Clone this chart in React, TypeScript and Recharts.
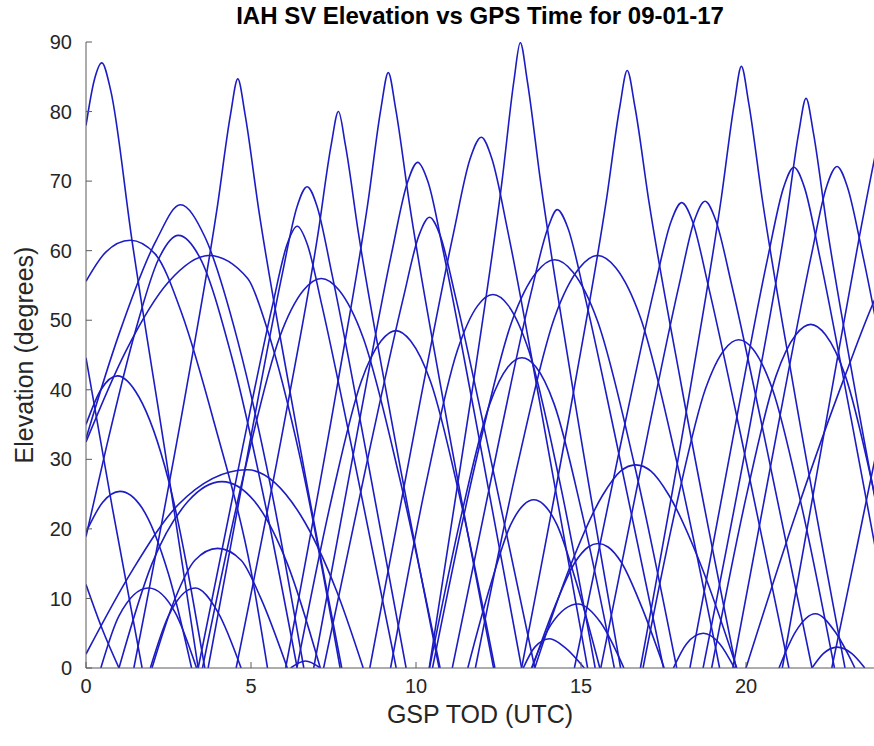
import { Line, LineChart, XAxis, YAxis } from 'recharts';

type Pt = [number, number];

// time of day (h), elevation (deg), one array per pass
const arc87a: Pt[] = [[0, 78], [0.25, 84.5], [0.48, 87], [0.75, 83], [1.39, 61.6], [2.4, 31], [3.4, 0]];
const arc85a: Pt[] = [[1.45, 0], [3.03, 39.8], [3.97, 66], [4.38, 79.6], [4.6, 84.7], [4.82, 79.6], [5.23, 66], [6.18, 39.8], [7.75, 0]];
const arc80: Pt[] = [[4.55, 0], [6.1, 37.6], [7.03, 62.4], [7.43, 75.2], [7.65, 80], [7.86, 75.2], [8.26, 62.4], [9.18, 37.6], [10.7, 0]];
const arc86a: Pt[] = [[6.05, 0], [7.6, 40.2], [8.54, 66.8], [8.94, 80.5], [9.16, 85.6], [9.38, 80.5], [9.8, 66.8], [10.76, 40.2], [12.35, 0]];
const arc73: Pt[] = [[6.9, 0], [8.32, 36.4], [9.26, 59.6], [9.74, 69.8], [10.05, 72.7], [10.37, 69.8], [10.84, 59.6], [11.78, 36.4], [13.2, 0]];
const arc65a: Pt[] = [[7.2, 0], [8.64, 32.4], [9.61, 53.1], [10.09, 62.2], [10.41, 64.8], [10.73, 62.2], [11.21, 53.1], [12.16, 32.4], [13.6, 0]];
const arc76: Pt[] = [[8.6, 0], [10.12, 38.2], [11.14, 62.6], [11.64, 73.2], [11.98, 76.3], [12.3, 73.2], [12.79, 62.6], [13.75, 38.2], [15.2, 0]];
const arc90: Pt[] = [[10.4, 0], [11.78, 42.3], [12.61, 70.1], [12.97, 84.5], [13.16, 89.9], [13.37, 84.5], [13.77, 70.1], [14.68, 42.3], [16.2, 0]];
const arc66a: Pt[] = [[11.1, 0], [12.53, 33], [13.49, 54], [14.0, 63.3], [14.28, 65.9], [14.6, 63.3], [15.09, 54], [16.05, 33], [17.5, 0]];
const arc86b: Pt[] = [[13.2, 0], [14.8, 40.4], [15.76, 67], [16.18, 80.8], [16.4, 85.9], [16.63, 80.8], [17.06, 67], [18.05, 40.4], [19.7, 0]];
const arc67a: Pt[] = [[14.8, 0], [16.26, 33.5], [17.24, 54.9], [17.73, 64.2], [18.05, 66.9], [18.38, 64.2], [18.86, 54.9], [19.84, 33.5], [21.3, 0]];
const arc67b: Pt[] = [[15.6, 0], [17.02, 33.6], [17.97, 55], [18.44, 64.4], [18.76, 67.1], [19.08, 64.4], [19.57, 55], [20.54, 33.6], [22.0, 0]];
const arc87b: Pt[] = [[16.8, 0], [18.33, 40.7], [19.25, 67.5], [19.65, 81.3], [19.86, 86.5], [20.08, 81.3], [20.49, 67.5], [21.43, 40.7], [23.0, 0]];
const arc82: Pt[] = [[18.7, 0], [20.26, 38.5], [21.2, 63.9], [21.6, 77], [21.82, 81.9], [22.04, 77], [22.44, 63.9], [23.36, 38.5], [24.9, 0]];
const arc72a: Pt[] = [[18.3, 0], [19.72, 36], [20.66, 59], [21.14, 69.1], [21.45, 72], [21.77, 69.1], [22.24, 59], [23.18, 36], [24.6, 0]];
const arc72b: Pt[] = [[19.6, 0], [21.02, 36], [21.97, 59.1], [22.44, 69.2], [22.76, 72.1], [23.07, 69.2], [23.55, 59.1], [24.49, 36], [25.9, 0]];
const rise75: Pt[] = [[21.1, 0], [22.6, 40], [23.42, 61.6], [23.95, 74.5], [24.4, 84]];

const arc61: Pt[] = [[0, 55.6], [0.6, 59.8], [1.34, 61.5], [2.1, 59.5], [2.9, 51], [3.9, 35], [5.0, 14], [5.5, 0]];
const fall45: Pt[] = [[0, 44.6], [0.8, 23], [1.7, 0]];
const arc42: Pt[] = [[0, 35], [0.45, 40], [0.95, 42], [1.6, 39], [2.5, 27], [3.6, 0]];
const arc67c: Pt[] = [[0, 33], [1.0, 48], [2.14, 61.6], [2.86, 66.6], [3.6, 62], [4.6, 47], [5.6, 26], [6.6, 0]];
const arc62: Pt[] = [[0, 18.9], [0.6, 31.4], [1.5, 48.5], [2.2, 58.8], [2.8, 62.2], [3.45, 59], [4.4, 45], [5.5, 22], [6.4, 0]];
const arc59a: Pt[] = [[0, 32.5], [1.2, 45.5], [2.5, 55.5], [3.72, 59.3], [4.9, 56], [5.5, 48.6], [6.5, 30], [7.7, 0]];
const arc25: Pt[] = [[0, 19.5], [0.5, 23.8], [1.03, 25.4], [1.7, 23], [2.5, 13.5], [3.2, 0]];
const arc12a: Pt[] = [[0.45, 0], [1.0, 7.5], [1.89, 11.5], [2.7, 8], [3.35, 0]];
const fall12: Pt[] = [[0, 12], [0.5, 5.5], [1.0, 0]];
const arc29a: Pt[] = [[0, 2], [1.4, 14], [2.8, 23.5], [4.88, 28.5], [6.5, 22], [7.6, 11], [8.4, 0]];
const arc27: Pt[] = [[1.0, 0], [2.0, 15], [3.1, 24], [4.12, 26.8], [5.1, 24], [6.1, 15], [7.1, 0]];
const arc17a: Pt[] = [[2.0, 0], [2.7, 10], [3.3, 15.5], [3.99, 17.2], [4.7, 15.5], [5.3, 10], [6.1, 0]];
const arc12b: Pt[] = [[1.95, 0], [2.5, 7.5], [3.31, 11.5], [4.0, 8], [4.7, 0]];
const arc1: Pt[] = [[6.2, 0], [6.65, 1], [7.1, 0]];

const arc69: Pt[] = [[3.7, 0], [5.05, 34.6], [5.95, 56.7], [6.4, 66.4], [6.7, 69.2], [7.0, 66.4], [7.45, 56.7], [8.35, 34.6], [9.7, 0]];
const arc64: Pt[] = [[3.4, 0], [4.75, 31.8], [5.65, 52.1], [6.1, 61], [6.4, 63.5], [6.7, 61], [7.15, 52.1], [8.05, 31.8], [9.4, 0]];
const arc56: Pt[] = [[3.53, 0], [4.79, 28], [5.87, 47.6], [6.59, 54.3], [7.13, 56], [7.67, 54.3], [8.39, 47.6], [9.47, 28], [10.73, 0]];
const arc49a: Pt[] = [[6.39, 0], [7.44, 24.3], [8.34, 41.2], [8.94, 47], [9.39, 48.5], [9.84, 47], [10.44, 41.2], [11.34, 24.3], [12.39, 0]];
const arc54: Pt[] = [[9.23, 0], [10.32, 26.9], [11.25, 45.6], [11.87, 52.1], [12.33, 53.7], [12.8, 52.1], [13.42, 45.6], [14.35, 26.9], [15.43, 0]];
const arc45: Pt[] = [[10.41, 0], [11.39, 22.3], [12.23, 37.9], [12.79, 43.3], [13.21, 44.6], [13.63, 43.3], [14.19, 37.9], [15.03, 22.3], [16.01, 0]];
const arc59b: Pt[] = [[10.5, 0], [11.8, 29.4], [12.91, 49.9], [13.65, 56.9], [14.2, 58.7], [14.76, 56.9], [15.5, 49.9], [16.61, 29.4], [17.9, 0]];
const arc59c: Pt[] = [[11.8, 0], [13.1, 29.7], [14.2, 50.4], [14.95, 57.5], [15.5, 59.3], [16.06, 57.5], [16.8, 50.4], [17.9, 29.7], [19.2, 0]];
const arc47: Pt[] = [[16.88, 0], [17.9, 23.6], [18.77, 40.1], [19.35, 45.8], [19.78, 47.2], [20.22, 45.8], [20.8, 40.1], [21.67, 23.6], [22.68, 0]];
const arc49b: Pt[] = [[18.96, 0], [20.01, 24.7], [20.91, 42], [21.51, 47.9], [21.96, 49.4], [22.41, 47.9], [23.01, 42], [23.91, 24.7], [24.96, 0]];

const arc24: Pt[] = [[11.57, 0], [12.27, 12.1], [12.87, 20.6], [13.27, 23.5], [13.57, 24.2], [13.87, 23.5], [14.27, 20.6], [14.87, 12.1], [15.57, 0]];
const arc4: Pt[] = [[13.25, 0], [13.6, 3], [14.05, 4.2], [14.5, 3], [15.1, 0]];
const arc9: Pt[] = [[13.5, 0], [14.1, 6.3], [14.91, 9.2], [15.6, 6.5], [16.3, 0]];
const arc18: Pt[] = [[13.52, 0], [14.22, 9], [14.82, 15.2], [15.22, 17.4], [15.52, 17.9], [15.82, 17.4], [16.22, 15.2], [16.82, 9], [17.52, 0]];
const arc29b: Pt[] = [[13.6, 0], [14.67, 14.6], [15.65, 24.8], [16.2, 28.3], [16.66, 29.2], [17.12, 28.3], [17.67, 24.8], [18.65, 14.6], [19.72, 0]];
const arc5: Pt[] = [[17.8, 0], [18.2, 3.5], [18.71, 5], [19.2, 3.5], [19.65, 0]];
const arc8: Pt[] = [[21.0, 0], [21.5, 5.2], [22.1, 7.8], [22.7, 5.2], [23.3, 0]];
const arc3: Pt[] = [[22.0, 0], [22.35, 2.1], [22.77, 3], [23.2, 2.1], [23.6, 0]];
const rise54: Pt[] = [[20.0, 0], [21.5, 22], [23.0, 42], [24, 54], [25, 62]];
const rise32: Pt[] = [[22.6, 0], [23.3, 16], [24, 32], [24.5, 42]];

const passes: Pt[][] = [
  arc87a, arc85a, arc80, arc86a, arc73, arc65a, arc76, arc90, arc66a, arc86b, arc67a, arc67b,
  arc87b, arc82, arc72a, arc72b, rise75, arc61, fall45, arc42, arc67c, arc62, arc59a, arc25,
  arc12a, fall12, arc29a, arc27, arc17a, arc12b, arc1, arc69, arc64, arc56, arc49a, arc54,
  arc45, arc59b, arc59c, arc47, arc49b, arc24, arc4, arc9, arc18, arc29b, arc5, arc8, arc3,
  rise54, rise32,
];

const xTicks = [0, 5, 10, 15, 20];
const xTicksTop = [5, 10, 15, 20];
const yTicks = [0, 10, 20, 30, 40, 50, 60, 70, 80, 90];

const FONT = '"Liberation Sans", Arial, sans-serif';
const AXIS = '#5a5a5a';
const TEXT = '#262626';
const BLUE = '#1c1cc4';

export default function App() {
  return (
    <div style={{ position: 'absolute', left: 0, top: 0, width: 874, height: 746, background: '#fff', fontFamily: FONT, overflow: 'hidden' }}>
      <div style={{ position: 'absolute', left: 0, width: 960, top: 2, textAlign: 'center', fontSize: 24, fontWeight: 'bold', color: '#000' }}>
        IAH SV Elevation vs GPS Time for 09-01-17
      </div>
      <div style={{ position: 'absolute', left: 0, width: 960, top: 700, textAlign: 'center', fontSize: 25, color: TEXT }}>
        GSP TOD (UTC)
      </div>
      <div
        style={{
          position: 'absolute', left: 24, top: 355, width: 400, marginLeft: -200, textAlign: 'center',
          fontSize: 25, color: TEXT, transform: 'translateY(-50%) rotate(-90deg)', lineHeight: '28px',
        }}
      >
        Elevation (degrees)
      </div>
      <LineChart width={878} height={746} margin={{ top: 42, right: 0, bottom: 0, left: 0 }} style={{ position: 'absolute', left: 0, top: 0 }}>
        <XAxis
          type="number" dataKey="t" domain={[0, 24]} ticks={xTicks} allowDataOverflow
          height={78} tickSize={-6} tickMargin={17} stroke={AXIS}
          tick={{ fontSize: 20, fill: TEXT, fontFamily: FONT }}
        />
        <XAxis
          xAxisId="top" orientation="top" type="number" domain={[0, 24]} ticks={xTicksTop}
          height={0} tickSize={-6} tick={false} stroke={AXIS}
        />
        <YAxis
          type="number" domain={[0, 90]} ticks={yTicks} allowDataOverflow
          width={86} tickSize={-6} tickMargin={20} stroke={AXIS}
          tick={{ fontSize: 20, fill: TEXT, fontFamily: FONT }}
        />
        <YAxis
          yAxisId="right" orientation="right" type="number" domain={[0, 90]} ticks={yTicks}
          width={0} tickSize={-6} tick={false} stroke={AXIS}
        />
        {passes.map((p, i) => (
          <Line
            key={i}
            data={p.map(([t, e]) => ({ t, e }))}
            dataKey="e"
            type="monotone"
            stroke={BLUE}
            strokeWidth={1.6}
            dot={false}
            activeDot={false}
            isAnimationActive={false}
          />
        ))}
      </LineChart>
    </div>
  );
}
